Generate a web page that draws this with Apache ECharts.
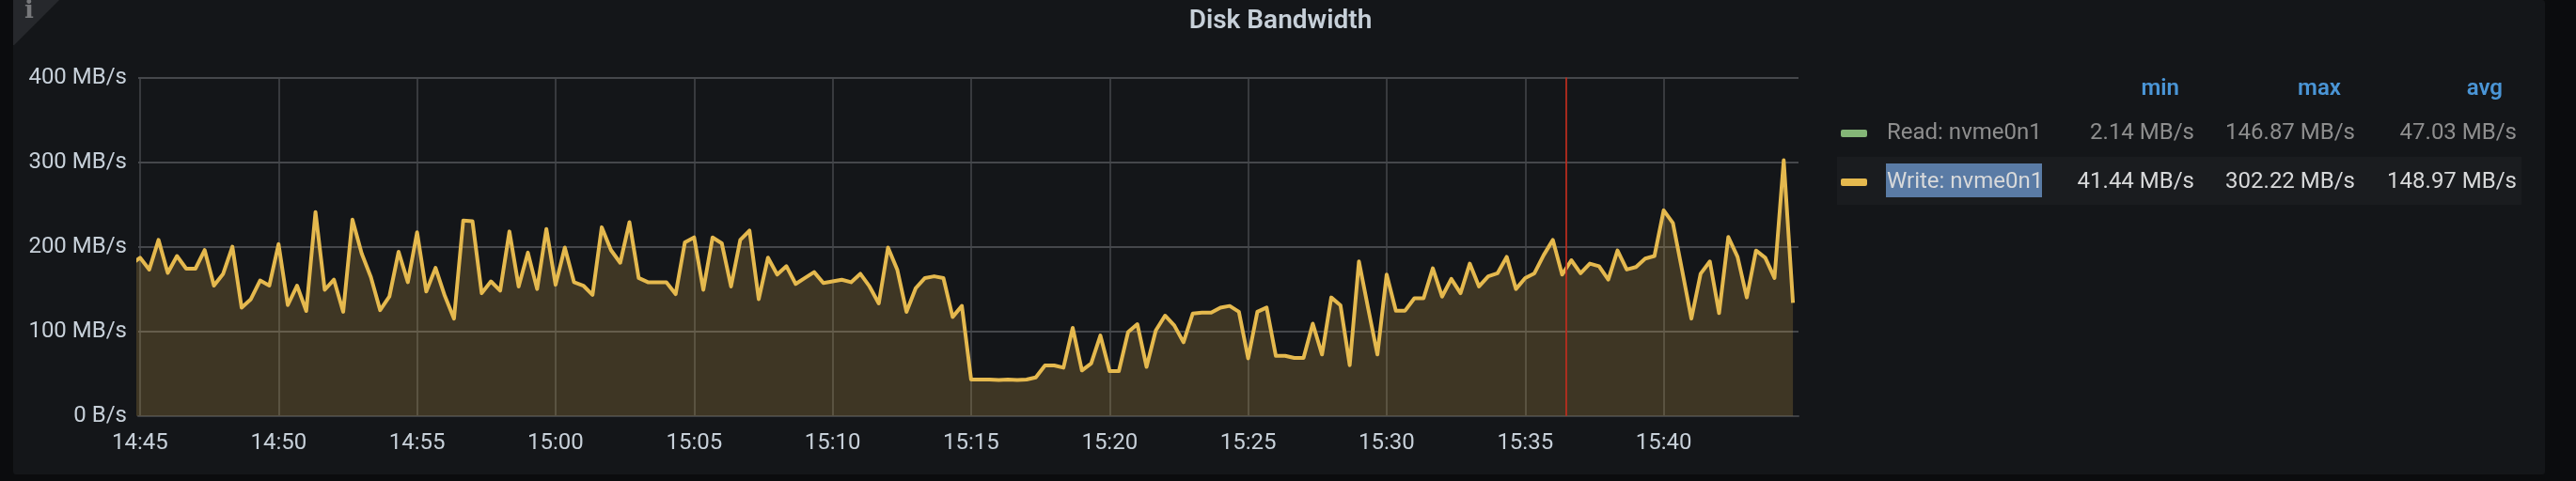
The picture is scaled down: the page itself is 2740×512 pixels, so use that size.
<!DOCTYPE html>
<html>
<head>
<meta charset="utf-8">
<style>html,body{margin:0;padding:0;background:#0b0c0e}#c{width:2740px;height:512px}</style>
<script src="https://cdn.jsdelivr.net/npm/echarts@6/dist/echarts.min.js"></script>
</head>
<body>
<div id="c"></div>
<script>
const chartTitle = 'Disk Bandwidth';
const yTickLabels = ['0 B/s', '100 MB/s', '200 MB/s', '300 MB/s', '400 MB/s'];
const xTickLabels = ['14:45','14:50','14:55','15:00','15:05','15:10','15:15','15:20','15:25','15:30','15:35','15:40'];
const legendHeaders = ['min', 'max', 'avg'];
const legendNames = ['Read: nvme0n1', 'Write: nvme0n1'];
const readStats = ['2.14 MB/s', '146.87 MB/s', '47.03 MB/s'];
const writeStats = ['41.44 MB/s', '302.22 MB/s', '148.97 MB/s'];
// one sample every 20 s; the first lies 20 s before 14:45:00, left of the plot edge
const writeValues = [
 179,187,173,208,169,189,174,174,196,154,168,200,128,138,160,154,203,131,154,124,
 241,149,161,123,232,192,164,125,141,194,158,217,147,175,142,115,231,230,145,159,
 148,218,153,193,150,221,155,199,158,154,143,223,196,181,229,163,158,158,158,144,
 205,211,149,211,204,153,208,219,138,187,167,177,156,163,170,157,159,161,158,168,
 153,133,199,173,123,151,163,165,163,117,130,43,43,43,42.5,43,42.5,43,45.5,59.6,
 59.6,57,104,53.7,62,95,53,53,99,108.5,58,101,118.5,107,87,121,122,122,128,130,
 123,68,123,128,71,71,68.5,68.5,109,72.6,140,130.7,60,182.6,127,72.6,167,124.4,124.4,139,
 139,174.4,141,162,145,180,153,165,168.5,188,150,163,168.5,190,208,167,184,168.5,180,177,
 161,195.5,173,176,186,189,243,228,172,115,168,182.6,121.5,211.5,188,140,195.5,187,163,302.2,
 133.7
];
const annotationTime = '15:36:29';
const axisStart = '14:44:56';
const axisEnd = '15:44:52';
const firstSampleTime = '14:44:40';
const SAMPLE_STEP = 20;

// x positions are seconds of the day
const toSec = s => {
  const [h, m, sec] = s.split(':').map(Number);
  return h * 3600 + m * 60 + (sec || 0);
};
const seriesData = writeValues.map((v, i) => [toSec(firstSampleTime) + i * SAMPLE_STEP, v]);
const xTickSecs = xTickLabels.map(toSec);

const FONT = 'Roboto';
const TEXT = '#c7d0d9';
const YELLOW = '#e5b94e';
const GREEN = '#84b677';

const txt = (x, y, text, fill, align, extra) => ({
  type: 'text', x, y, z: 5,
  style: Object.assign({text, fill, font: '24px ' + FONT, align: align || 'left', verticalAlign: 'middle'}, extra || {})
});
const rect = (x, y, w, h, fill, r, z) => ({type: 'rect', z: z === undefined ? 1 : z, shape: {x, y, width: w, height: h, r: r || 0}, style: {fill}});

const headerX = [2318, 2490, 2662];
const statX = [2334, 2505, 2677];

const graphic = [
  rect(14, 0, 2693, 505, '#141619', 3, -10),
  {type: 'polygon', z: -9, shape: {points: [[14, 0], [63, 0], [15, 48], [14, 48]]}, style: {fill: '#26282c'}},
  txt(31, 12, 'i', '#77787b', 'center', {font: 'bold 26px "DejaVu Serif"'}),
  rect(1954, 167, 728, 51, '#1a1c1f', 0, 0),
  rect(2006, 174, 166, 36, '#5a7ba5', 0, 1),
  rect(1958, 138, 28, 8, GREEN, 2),
  rect(1958, 190, 28, 8, YELLOW, 2),
  txt(2007, 141.5, legendNames[0], '#8e8e8e'),
  txt(2007, 193.5, legendNames[1], '#d8d9da')
];
legendHeaders.forEach((h, i) => graphic.push(txt(headerX[i], 95, h, '#4a95d6', 'right', {font: '600 24px ' + FONT})));
readStats.forEach((s, i) => graphic.push(txt(statX[i], 141.5, s, '#8e8e8e', 'right')));
writeStats.forEach((s, i) => graphic.push(txt(statX[i], 193.5, s, '#d8d9da', 'right')));

const chart = echarts.init(document.getElementById('c'), null, {renderer: 'canvas'});
chart.setOption({
  animation: false,
  backgroundColor: '#0b0c0e',
  textStyle: {fontFamily: FONT},
  title: {
    text: chartTitle, left: 1357, top: 18, textAlign: 'center', textVerticalAlign: 'middle',
    textStyle: {color: TEXT, fontSize: 28, fontWeight: 600, fontFamily: FONT}
  },
  grid: {left: 147, right: 827, top: 82.5, bottom: 69.3, containLabel: false},
  xAxis: {
    type: 'value',
    min: toSec(axisStart), max: toSec(axisEnd), scale: true,
    axisLine: {show: true, onZero: false, lineStyle: {color: '#3e4044', width: 2}},
    axisTick: {show: false, customValues: xTickSecs},
    axisLabel: {
      color: TEXT, fontSize: 24, fontFamily: FONT, margin: 17, hideOverlap: false,
      customValues: xTickSecs,
      formatter: v => xTickLabels[xTickSecs.indexOf(+v)]
    },
    splitLine: {show: true, showMinLine: true, showMaxLine: true, lineStyle: {color: '#45474b', width: 1.5}}
  },
  yAxis: {
    type: 'value', min: 0, max: 400, interval: 100,
    axisLine: {show: false},
    axisTick: {show: false},
    axisLabel: {
      color: TEXT, fontSize: 24, fontFamily: FONT, margin: 12,
      formatter: v => yTickLabels[v / 100]
    },
    splitLine: {show: true, lineStyle: {color: '#45474b', width: 2}}
  },
  series: [{
    name: legendNames[1], type: 'line', data: seriesData, clip: true,
    showSymbol: false, smooth: false, z: 3,
    lineStyle: {color: YELLOW, width: 4, join: 'round'},
    itemStyle: {color: YELLOW},
    areaStyle: {color: YELLOW, opacity: 0.2},
    markLine: {
      silent: true, symbol: 'none', z: 4,
      label: {show: false},
      lineStyle: {color: 'rgba(190,45,30,0.85)', type: 'solid', width: 2},
      data: [{xAxis: toSec(annotationTime)}]
    }
  }],
  graphic: {elements: graphic}
});
</script>
</body>
</html>
